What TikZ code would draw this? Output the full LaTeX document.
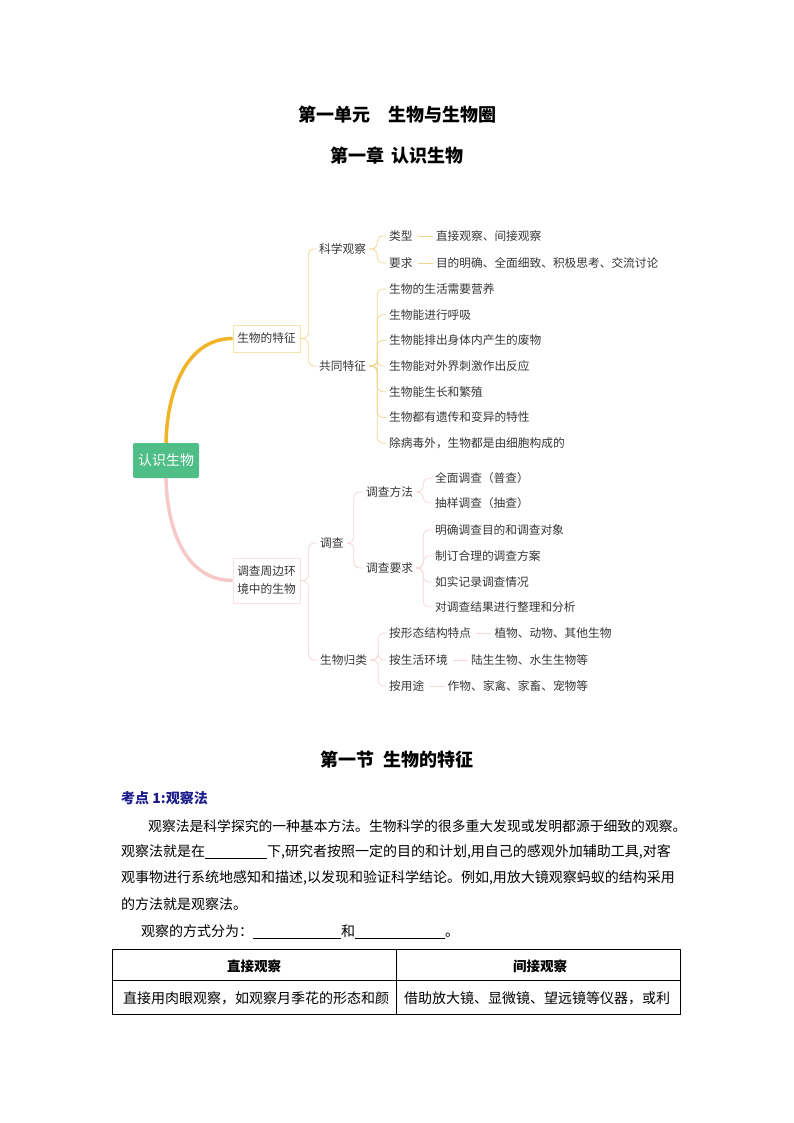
\documentclass[tikz,border=0pt]{standalone}
\usepackage{fontspec}
\setmainfont{Noto Sans CJK SC}
\usetikzlibrary{positioning}

\definecolor{rootgreen}{RGB}{80,190,135}
\definecolor{branchorange}{RGB}{240,180,40}
\definecolor{branchpink}{RGB}{247,200,200}
\definecolor{linkyellow}{RGB}{242,214,140}
\definecolor{linkpink}{RGB}{245,212,212}
\definecolor{featline}{RGB}{248,228,170}
\definecolor{survline}{RGB}{248,226,226}
\definecolor{mapgray}{RGB}{55,55,55}
\definecolor{keyblue}{RGB}{30,30,140}

\newcommand{\gapline}[1]{\rule[-2pt]{#1}{0.6pt}}

\begin{document}
\begin{tikzpicture}[x=1pt, y=-1pt,
      every node/.style={inner sep=0pt},
      title/.style={font=\fontsize{18}{20}\selectfont\bfseries},
      body/.style={anchor=west, font=\fontsize{14}{16}\selectfont},
      head/.style={font=\fontsize{13.5}{16}\selectfont\bfseries},
      item/.style={anchor=west, text=mapgray, font=\fontsize{11.7}{14}\selectfont},
      rootbox/.style={fill=rootgreen, text=white, rounded corners=2pt, minimum width=66pt, minimum height=35pt, font=\fontsize{14}{16}\selectfont},
      topic/.style={draw, line width=0.7pt, fill=white, text=mapgray, align=center, minimum width=67pt, font=\fontsize{11.7}{18}\selectfont},
      ylink/.style={draw=linkyellow, line width=0.7pt, rounded corners=6pt},
      plink/.style={draw=linkpink, line width=0.7pt, rounded corners=6pt},
      pair/.style={shorten <=5pt, shorten >=3pt}
  ]

  \fill[white] (0,0) rectangle (794,1123);
  \useasboundingbox (0,0) rectangle (794,1123);

  % Titles
  \node[title] (unit) at (397,115) {第一单元\hspace{18pt}生物与生物圈};
  \node[title] (chapter) at (397,156) {第一章\hspace{7pt}认识生物};

  % Nodes
  \node[rootbox] (root) at (166,460.5) {认识生物};
  \node[topic, draw=featline, minimum height=27pt] (feat) at (266.5,338.5) {生物的特征};
  \node[topic, draw=survline, minimum height=45pt] (survey) at (266.5,580.5) {调查周边环\\境中的生物};

  \node[item] (sci) at (319,249) {科学观察};
  \node[item] (common) at (319,366) {共同特征};
  \node[item] (inquiry) at (320,543) {调查};
  \node[item] (classify) at (320,660) {生物归类};

  \node[item] (kind) at (389,236) {类型};
  \node[item, right=23pt of kind] (kindval) {直接观察、间接观察};
  \node[item] (need) at (389,263) {要求};
  \node[item, right=23pt of need] (needval) {目的明确、全面细致、积极思考、交流讨论};

  \foreach \t [count=\i] in {生物的生活需要营养, 生物能进行呼吸, 生物能排出身体内产生的废物,
      生物能对外界刺激作出反应, 生物能生长和繁殖, 生物都有遗传和变异的特性, 除病毒外，生物都是由细胞构成的}
    \node[item] (f\i) at (389,{289+(\i-1)*25.7}) {\t};

  \node[item] (method) at (366,492) {调查方法};
  \node[item] (demand) at (366,568) {调查要求};
  \node[item] (m1) at (435,478) {全面调查（普查）};
  \node[item] (m2) at (435,503) {抽样调查（抽查）};
  \node[item] (d1) at (435,530) {明确调查目的和调查对象};
  \node[item] (d2) at (435,556) {制订合理的调查方案};
  \node[item] (d3) at (435,582) {如实记录调查情况};
  \node[item] (d4) at (435,607) {对调查结果进行整理和分析};

  \node[item] (shape) at (389,633) {按形态结构特点};
  \node[item, right=23pt of shape] (shapeval) {植物、动物、其他生物};
  \node[item] (habitat) at (389,660) {按生活环境};
  \node[item, right=23pt of habitat] (habitatval) {陆生生物、水生生物等};
  \node[item] (use) at (389,686) {按用途};
  \node[item, right=23pt of use] (useval) {作物、家禽、家畜、宠物等};

  % Branches
  \draw[branchorange, line width=3.5pt] (root.north) .. controls (167,392) and (186,338.5) .. (feat.west);
  \draw[branchpink, line width=3.5pt] (root.south) .. controls (167,530) and (186,580.5) .. (survey.west);

  \foreach \c in {sci,common}
    \draw[ylink] (feat.east) -- ++(8,0) |- ([xshift=-3pt]\c.west);
  \foreach \c in {kind,need}
    \draw[ylink] ([xshift=3pt]sci.east) -- ++(8,0) |- ([xshift=-3pt]\c.west);
  \foreach \i in {1,...,7}
    \draw[ylink] ([xshift=3pt]common.east) -- ++(8,0) |- ([xshift=-3pt]f\i.west);
  \draw[ylink, pair] (kind.east) -- (kindval.west);
  \draw[ylink, pair] (need.east) -- (needval.west);

  \foreach \c in {inquiry,classify}
    \draw[plink] (survey.east) -- ++(8,0) |- ([xshift=-3pt]\c.west);
  \foreach \c in {method,demand}
    \draw[plink] ([xshift=3pt]inquiry.east) -- ++(7,0) |- ([xshift=-3pt]\c.west);
  \foreach \c in {m1,m2}
    \draw[plink] ([xshift=3pt]method.east) -- ++(7,0) |- ([xshift=-3pt]\c.west);
  \foreach \c in {d1,d2,d3,d4}
    \draw[plink] ([xshift=3pt]demand.east) -- ++(7,0) |- ([xshift=-3pt]\c.west);
  \foreach \c in {shape,habitat,use}
    \draw[plink] ([xshift=3pt]classify.east) -- ++(8,0) |- ([xshift=-3pt]\c.west);
  \draw[plink, pair] (shape.east) -- (shapeval.west);
  \draw[plink, pair] (habitat.east) -- (habitatval.west);
  \draw[plink, pair] (use.east) -- (useval.west);

  % Section text
  \node[title] (section) at (397,760) {第一节\hspace{10pt}生物的特征};
  \node[body, text=keyblue, font=\fontsize{14}{16}\selectfont\bfseries] (point) at (121,798) {考点 1:观察法};
  \node[body, font=\fontsize{13.8}{16}\selectfont] (p1) at (148,826) {观察法是科学探究的一种基本方法。生物科学的很多重大发现或发明都源于细致的观察。};
  \node[body] (p2) at (121,852) {观察法就是在\gapline{62pt}下,研究者按照一定的目的和计划,用自己的感观外加辅助工具,对客};
  \node[body] (p3) at (121,878) {观事物进行系统地感知和描述,以发现和验证科学结论。例如,用放大镜观察蚂蚁的结构采用};
  \node[body] (p4) at (121,904) {的方法就是观察法。};
  \node[body] (p5) at (141,932) {观察的方式分为：\gapline{88pt}和\gapline{90pt}。};

  % Table
  \draw[line width=0.8pt] (112,949) rectangle (680,1014);
  \draw[line width=0.8pt] (112,980) -- (680,980);
  \draw[line width=0.8pt] (396,949) -- (396,1014);
  \node[head] (direct) at (254,966) {直接观察};
  \node[head] (indirect) at (540,966) {间接观察};
  \node[body] (directtxt) at (123,998) {直接用肉眼观察，如观察月季花的形态和颜};
  \node[body] (indirecttxt) at (404,998) {借助放大镜、显微镜、望远镜等仪器，或利};

\end{tikzpicture}
\end{document}
